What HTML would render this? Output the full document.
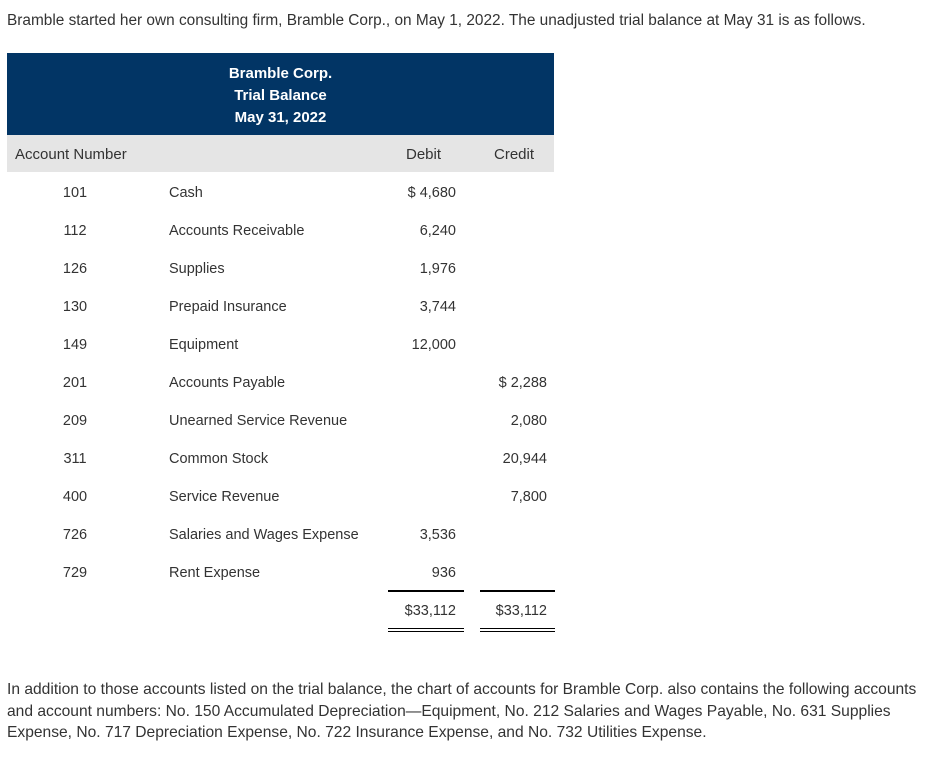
<!DOCTYPE html>
<html><head><meta charset="utf-8"><style>
body{margin:0;width:952px;height:758px;background:#fff;font-family:"Liberation Sans",sans-serif;color:#333;position:relative;overflow:hidden}
.a{position:absolute;white-space:nowrap;font-size:14.5px;line-height:18px}
.r{text-align:right}
.num{width:60px;text-align:center}
.hl{position:absolute;background:#000;height:1.5px}
</style></head><body>
<div class="a" style="left:7px;top:12px;font-size:15.4px">Bramble started her own consulting firm, Bramble Corp., on May 1, 2022. The unadjusted trial balance at May 31 is as follows.</div>
<div style="position:absolute;left:7px;top:53px;width:547px;height:82px;background:#023565;color:#fff;text-align:center;font-weight:bold;font-size:15px;line-height:22px;padding-top:10px;box-sizing:border-box"><div>Bramble Corp.<br>Trial Balance<br>May 31, 2022</div></div>
<div style="position:absolute;left:7px;top:135px;width:547px;height:37px;background:#e5e5e5"></div>
<div class="a" style="left:15px;top:146px;font-size:15px">Account Number</div>
<div class="a" style="left:406px;top:146px;font-size:15px">Debit</div>
<div class="a" style="left:494px;top:146px;font-size:15px">Credit</div>
<div id="rows"></div>
<div class="hl" style="left:388px;top:590px;width:76px"></div>
<div class="hl" style="left:480px;top:590px;width:75px"></div>
<div class="a r" style="left:376px;width:80px;top:602px">$33,112</div>
<div class="a r" style="left:467px;width:80px;top:602px">$33,112</div>
<div class="hl" style="left:388px;top:628px;width:76px;height:1px"></div>
<div class="hl" style="left:388px;top:631px;width:76px;height:1px"></div>
<div class="hl" style="left:480px;top:628px;width:75px;height:1px"></div>
<div class="hl" style="left:480px;top:631px;width:75px;height:1px"></div>
<div style="position:absolute;left:7px;top:679px;white-space:nowrap;font-size:15.6px;line-height:21.5px">In addition to those accounts listed on the trial balance, the chart of accounts for Bramble Corp. also contains the following accounts<br>and account numbers: No. 150 Accumulated Depreciation—Equipment, No. 212 Salaries and Wages Payable, No. 631 Supplies<br>Expense, No. 717 Depreciation Expense, No. 722 Insurance Expense, and No. 732 Utilities Expense.</div>
<script>
const nums=["101","112","126","130","149","201","209","311","400","726","729"];
const names=["Cash","Accounts Receivable","Supplies","Prepaid Insurance","Equipment","Accounts Payable","Unearned Service Revenue","Common Stock","Service Revenue","Salaries and Wages Expense","Rent Expense"];
const debits=["$ 4,680","6,240","1,976","3,744","12,000","","","","","3,536","936"];
const credits=["","","","","","$ 2,288","2,080","20,944","7,800","",""];
const c=document.getElementById('rows');
function add(txt,style,cls,name){const d=document.createElement('div');d.className='a '+cls;d.style.cssText=style;d.textContent=txt;


c.appendChild(d);}
nums.forEach((n,i)=>{const t=184+i*38;
add(n,`left:45px;top:${t}px`,'num','account-number');
add(names[i],`left:169px;top:${t}px`,'','account-name');
if(debits[i])add(debits[i],`left:376px;width:80px;top:${t}px`,'r','debit-amount');
if(credits[i])add(credits[i],`left:467px;width:80px;top:${t}px`,'r','credit-amount');});
</script>
</body></html>
